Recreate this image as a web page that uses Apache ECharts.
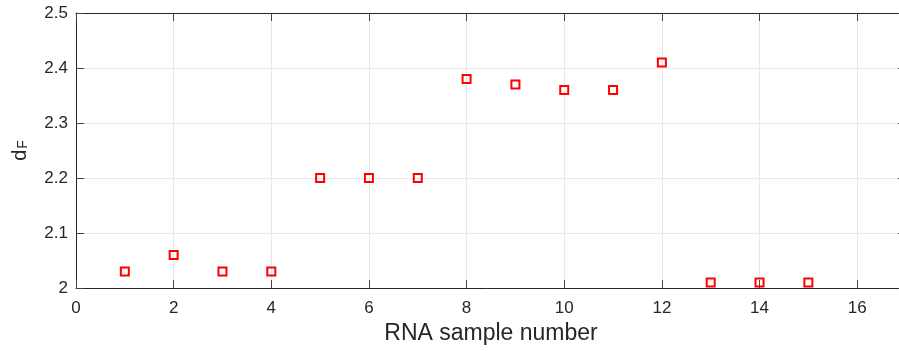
<!DOCTYPE html>
<html>
<head>
<meta charset="utf-8">
<script src="https://cdn.jsdelivr.net/npm/echarts@6/dist/echarts.min.js"></script>
<style>
html,body{margin:0;padding:0;background:#fff;}
#c{width:899px;height:351px;}
</style>
</head>
<body>
<div id="c"></div>
<script>
var sampleNumbers = [1, 2, 3, 4, 5, 6, 7, 8, 9, 10, 11, 12, 13, 14, 15];
var dfValues = [2.03, 2.06, 2.03, 2.03, 2.20, 2.20, 2.20, 2.38, 2.37, 2.36, 2.36, 2.41, 2.01, 2.01, 2.01];
var xTicks = [0, 2, 4, 6, 8, 10, 12, 14, 16];
var yTicks = [2, 2.1, 2.2, 2.3, 2.4, 2.5];

var points = sampleNumbers.map(function (x, i) { return [x, dfValues[i]]; });
var txt = '#262626';
var font = 'Liberation Sans, Arial, Helvetica, sans-serif';

var chart = echarts.init(document.getElementById('c'), null, {renderer: 'canvas'});
chart.setOption({
  backgroundColor: '#ffffff',
  animation: false,
  grid: {left: 76, top: 13, right: -7, bottom: 63, containLabel: false, outerBoundsMode: 'none'},
  xAxis: [{
    type: 'value', min: 0, max: 17, interval: 2,
    name: 'RNA sample number', nameLocation: 'middle', nameGap: 34,
    nameTextStyle: {color: txt, fontSize: 23, fontFamily: font},
    axisLine: {show: true, onZero: false, lineStyle: {color: txt, width: 1}},
    axisTick: {show: true, inside: true, length: 8, lineStyle: {color: '#444'}},
    axisLabel: {color: txt, fontSize: 17, fontFamily: font, margin: 12, showMaxLabel: false,
      formatter: function (v) { return xTicks.indexOf(v) >= 0 ? String(v) : ''; }},
    splitLine: {show: true, lineStyle: {color: '#e8e8e8', width: 1}}
  }, {
    type: 'value', position: 'top', min: 0, max: 17, interval: 2,
    axisLine: {show: true, onZero: false, lineStyle: {color: txt, width: 1}},
    axisTick: {show: true, inside: true, length: 8, lineStyle: {color: '#444'}},
    axisLabel: {show: false}, splitLine: {show: false}
  }],
  yAxis: [{
    type: 'value', min: 2, max: 2.5, interval: 0.1,
    name: '{d|d}{f|F}', nameLocation: 'middle', nameGap: 46, nameRotate: 90,
    nameTextStyle: {color: txt, fontFamily: font, fontSize: 20,
      rich: {
        d: {fontSize: 20, color: txt, fontFamily: font, verticalAlign: 'top', lineHeight: 20},
        f: {fontSize: 14, color: txt, fontFamily: font, verticalAlign: 'bottom', lineHeight: 14, padding: [20, 0, 0, 1]}
      }},
    axisLine: {show: true, onZero: false, lineStyle: {color: txt, width: 1}},
    axisTick: {show: true, inside: true, length: 8, lineStyle: {color: '#444'}},
    axisLabel: {color: txt, fontSize: 17, fontFamily: font, margin: 8,
      formatter: function (v) {
        for (var i = 0; i < yTicks.length; i++) { if (Math.abs(yTicks[i] - v) < 1e-9) return String(yTicks[i]); }
        return '';
      }},
    splitLine: {show: true, lineStyle: {color: '#e8e8e8', width: 1}}
  }, {
    type: 'value', position: 'right', min: 2, max: 2.5, interval: 0.1,
    axisLine: {show: true, onZero: false, lineStyle: {color: txt, width: 1}},
    axisTick: {show: true, inside: true, length: 8, lineStyle: {color: '#444'}},
    axisLabel: {show: false}, splitLine: {show: false}
  }],
  series: [{
    type: 'scatter',
    data: points,
    symbol: 'rect',
    symbolSize: 8,
    itemStyle: {color: 'rgba(0,0,0,0)', borderColor: '#ff0000', borderWidth: 2, opacity: 1},
    emphasis: {disabled: true}
  }]
});
</script>
</body>
</html>
